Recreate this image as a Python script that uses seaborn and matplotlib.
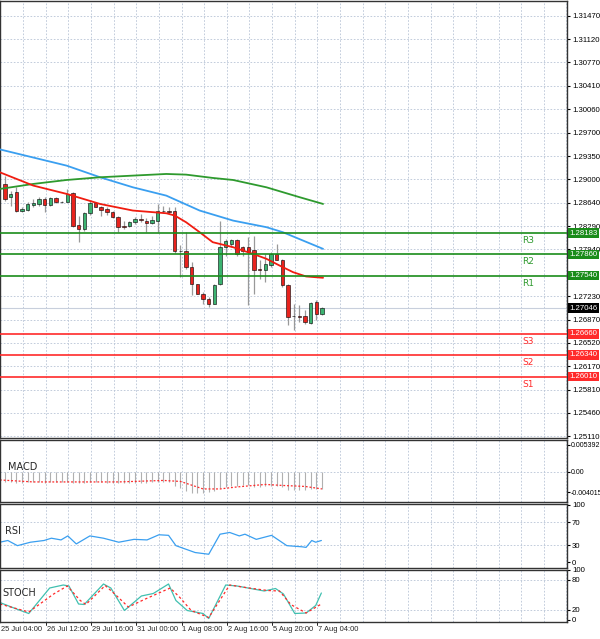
import numpy as np
import pandas as pd
import matplotlib
matplotlib.use("Agg")
import matplotlib.pyplot as plt
from matplotlib import font_manager
import seaborn as sns

sns.set_style("white")
_names = {f.name for f in font_manager.fontManager.ttflist}
NARROW = "Liberation Sans Narrow" if "Liberation Sans Narrow" in _names else "Liberation Sans"
plt.rcParams["font.family"] = "DejaVu Sans"

# ---------------- data ----------------
opens = [1.28927,1.28725,1.28801,1.28524,1.28534,1.28614,1.28624,1.28700,1.28614,1.28715,
         1.28650,1.28660,1.28786,1.28312,1.28246,1.28483,1.28634,1.28574,1.28549,1.28498,
         1.28433,1.28297,1.28297,1.28347,1.28398,1.28372,1.28342,1.28372,1.28524,1.28514,
         1.28514,1.27919,1.27919,1.27667,1.27405,1.27254,1.27188,1.27112,1.27405,1.27969,
         1.28020,1.28080,1.27979,1.27969,1.27929,1.27642,1.27626,1.27707,1.27868,1.27778,
         1.27390,1.26921,1.26921,1.26921,1.26820,1.27138,1.26961]
closes = [1.28700,1.28776,1.28524,1.28549,1.28624,1.28634,1.28700,1.28609,1.28715,1.28650,
          1.28660,1.28776,1.28297,1.28246,1.28483,1.28634,1.28584,1.28534,1.28498,1.28433,
          1.28272,1.28272,1.28357,1.28398,1.28382,1.28342,1.28382,1.28524,1.28514,1.28503,
          1.27909,1.27909,1.27667,1.27405,1.27264,1.27188,1.27112,1.27390,1.27969,1.28060,
          1.28080,1.27868,1.27919,1.27894,1.27626,1.27631,1.27717,1.27868,1.27778,1.27390,
          1.26911,1.26931,1.26911,1.26835,1.27122,1.26961,1.27046]
highs = [1.29053,1.28826,1.28876,1.28574,1.28650,1.28700,1.28725,1.28725,1.28725,1.28735,
         1.28675,1.28851,1.28801,1.28448,1.28498,1.28665,1.28660,1.28599,1.28574,1.28524,
         1.28448,1.28372,1.28372,1.28433,1.28473,1.28413,1.28448,1.28624,1.28599,1.28574,
         1.28574,1.28009,1.28196,1.27742,1.27415,1.27289,1.27213,1.27415,1.28372,1.28095,
         1.28095,1.28095,1.27994,1.28120,1.28146,1.27768,1.27868,1.27894,1.28020,1.27793,
         1.27415,1.27112,1.27087,1.27012,1.27138,1.27163,1.27062]
lows = [1.28675,1.28599,1.28498,1.28498,1.28524,1.28574,1.28599,1.28498,1.28599,1.28634,
        1.28634,1.28650,1.28272,1.28045,1.28221,1.28463,1.28574,1.28448,1.28463,1.28413,
        1.28196,1.28246,1.28272,1.28322,1.28347,1.28196,1.28322,1.28196,1.28483,1.28473,
        1.27878,1.27516,1.27642,1.27238,1.27254,1.27112,1.27062,1.27102,1.27390,1.27843,
        1.27969,1.27843,1.27843,1.27087,1.27254,1.27490,1.27440,1.27667,1.27768,1.27364,
        1.26785,1.26719,1.26835,1.26810,1.26810,1.26860,1.26936]

ma_red_x = [-0.9,5,10.9,16.8,22.6,28.5,30,32,34.4,36.7,40.3,43.8,46.2,48.5,50.9,53.2,56.2]
ma_red_y = [1.29103,1.28902,1.28776,1.28624,1.28524,1.28483,1.28448,1.28347,1.28196,1.28045,
            1.27969,1.27868,1.27793,1.27692,1.27591,1.27526,1.27506]
ma_blue_x = [-0.9,10.9,16.8,22.6,28.5,34.4,40.3,46.2,49.1,56.2]
ma_blue_y = [1.29450,1.29204,1.29028,1.28876,1.28750,1.28524,1.28372,1.28272,1.28196,1.27944]
ma_green_x = [-0.9,5,10.9,16.8,22.6,28.5,32,36.7,40.3,46.2,52.1,56.2]
ma_green_y = [1.28851,1.28927,1.28987,1.29028,1.29053,1.29078,1.29068,1.29018,1.28987,1.28876,
              1.28725,1.28624]

res_levels = [1.28183, 1.27860, 1.27540]
res_names = ["R3", "R2", "R1"]
sup_levels = [1.26660, 1.26340, 1.26010]
sup_names = ["S3", "S2", "S1"]
last_price = 1.27046

price_ticks = [1.31470,1.31120,1.30770,1.30410,1.30060,1.29700,1.29350,1.29000,1.28640,
               1.28290,1.27940,1.27230,1.26870,1.26520,1.26170,1.25810,1.25460,1.25110]

macd_hist = [-0.0021,-0.0021,-0.0022,-0.0022,-0.0021,-0.0021,-0.0021,-0.0022,-0.0021,-0.0021,
             -0.0021,-0.0020,-0.0022,-0.0023,-0.0022,-0.0021,-0.0021,-0.0021,-0.0022,-0.0022,
             -0.0022,-0.0023,-0.0022,-0.0022,-0.0022,-0.0022,-0.0021,-0.0020,-0.0020,-0.0020,
             -0.0028,-0.0033,-0.0038,-0.0042,-0.0043,-0.0042,-0.0041,-0.0039,-0.0033,-0.0030,
             -0.0028,-0.0028,-0.0027,-0.0027,-0.0030,-0.0030,-0.0029,-0.0028,-0.0028,-0.0031,
             -0.0036,-0.0037,-0.0037,-0.0037,-0.0035,-0.0035,-0.0034]
macd_sig_x = [-0.9,5,20,28,31,35,38,41,46,49,53,56]
macd_sig_y = [-0.0016,-0.0020,-0.0020,-0.0017,-0.0019,-0.0034,-0.0034,-0.0030,-0.0025,-0.0027,
              -0.0029,-0.0034]

rsi_x = [-0.9,0.5,2.2,4.5,6.9,8.2,9.9,11.1,12.6,15.0,17.4,20.1,22.8,25.1,27.2,28.9,30.2,33.6,
         36.0,38.0,39.7,41.4,42.4,44.4,47.1,49.8,52.5,53.2,54.2,54.9,55.9]
rsi_y = [35,38,29,35,38,42,39,46,32,46,42,35,40,39,48,47,29,17,14,49,52,46,49,40,47,29,27,26,
         38,35,38]

stoch_x = [-0.9,1.8,4.2,7.9,10.3,11.3,13.0,14.0,17.4,18.7,21.1,24.1,26.2,28.9,30.2,32.2,35.0,
           36.0,39.0,41.0,45.8,47.8,49.2,51.2,53.2,54.9,55.9]
stoch_k = [35,23,13,64,70,68,32,31,72,64,19,48,53,72,39,19,13,3,70,68,58,63,52,13,14,29,54]
stoch_sx = [-0.9,4.2,8.6,11.0,13.3,14.3,17.7,19.4,21.8,24.8,29.2,30.9,32.9,36.0,39.7,43.1,46.4,
            48.5,50.5,53.2,55.9]
stoch_d = [32,16,52,68,39,31,69,52,26,42,64,45,19,5,70,64,59,58,31,14,32]

time_labels = ["25 Jul 04:00","26 Jul 12:00","29 Jul 16:00","31 Jul 00:00",
               "1 Aug 08:00","2 Aug 16:00","5 Aug 20:00","7 Aug 04:00"]

# ---------------- layout ----------------
W, H = 600, 639
fig = plt.figure(figsize=(W/100, H/100), dpi=100)
fig.patch.set_facecolor("white")

def add(top, bottom):
    return fig.add_axes([0, 1 - bottom/H, 567/W, (bottom-top)/H])

ax = add(1, 438)
axm = add(440, 502)
axr = add(504, 568)
axs = add(570, 622)

XMIN, XMAX = -0.88, 99.3
grid_x = np.arange(3.2, XMAX, 4)
FS = 5.6
gridkw = dict(color="#b8c4d6", lw=0.6, ls=(0, (2, 2)))

for a in (ax, axm, axr, axs):
    a.set_xlim(XMIN, XMAX)
    for gx in grid_x:
        a.axvline(gx, zorder=0, **gridkw)
    a.set_xticks([])
    a.yaxis.tick_right()
    a.tick_params(axis="y", labelsize=FS, length=2, pad=1.5, colors="black")
    for s in a.spines.values():
        s.set_color("#333333"); s.set_linewidth(1.0)

def fix_font(a):
    for lbl in a.get_yticklabels():
        lbl.set_fontfamily(NARROW)

# ---- main price panel ----
ax.set_ylim(1.25080, 1.31697)
ax.set_yticks(price_ticks)
ax.set_yticklabels([f"{t:.5f}" for t in price_ticks])
for t in price_ticks:
    ax.axhline(t, zorder=0, **gridkw)

idx = np.arange(len(opens))
for i in idx:
    o, c, h, l = opens[i], closes[i], highs[i], lows[i]
    up = c >= o
    ax.vlines(i, l, h, color="#999999", lw=0.9, zorder=2)
    col = "#3cb371" if up else "#e8231e"
    lo, hi = min(o, c), max(o, c)
    if hi - lo < 0.00004:
        hi = lo + 0.00004
    ax.bar(i, hi - lo, bottom=lo, width=0.6, color=col, edgecolor="black", lw=0.4, zorder=3)

sns.lineplot(x=ma_blue_x, y=ma_blue_y, ax=ax, color="#3a9ff0", lw=1.3, zorder=4)
sns.lineplot(x=ma_green_x, y=ma_green_y, ax=ax, color="#2e9a2e", lw=1.3, zorder=4)
sns.lineplot(x=ma_red_x, y=ma_red_y, ax=ax, color="#f01c10", lw=1.3, zorder=4)

def box(lv, fc):
    ax.text(1.004, lv, f"{lv:.5f}", transform=ax.get_yaxis_transform(), fontsize=FS,
            fontfamily=NARROW, color="white", va="center", ha="left",
            bbox=dict(boxstyle="square,pad=0.18", fc=fc, ec="none"), zorder=10)

ax.axhline(last_price, color="#c8cfdc", lw=0.8, zorder=1)
lab_x = 92.4
for lv, nm in zip(res_levels, res_names):
    ax.axhline(lv, color="#1a8c1a", lw=1.2, zorder=5)
    ax.text(lab_x, lv - 0.00115, nm, color="#2e9a2e", fontsize=6.5, ha="center", va="center")
    box(lv, "#1a8c1a")
for lv, nm in zip(sup_levels, sup_names):
    ax.axhline(lv, color="#ff2a2a", lw=1.2, zorder=5)
    ax.text(lab_x, lv - 0.00115, nm, color="#ff2a2a", fontsize=6.5, ha="center", va="center")
    box(lv, "#ff2a2a")
box(last_price, "black")
ax.set_ylabel("")
fix_font(ax)

# ---- MACD ----
axm.set_ylim(-0.006015, 0.006392)
axm.set_yticks([0.005392, 0.0, -0.004015])
axm.set_yticklabels(["0.005392", "0.00", "-0.004015"])
axm.tick_params(axis="y", labelsize=5.0, pad=1)
axm.axhline(0, zorder=0, **gridkw)
axm.vlines(idx, 0, macd_hist, color="#b0b0b0", lw=0.8)
sns.lineplot(x=macd_sig_x, y=macd_sig_y, ax=axm, color="#ff2a2a", lw=0.9, linestyle=(0, (1.5, 1.5)))
axm.text(0.5, 0.0010, "MACD", fontsize=7, va="center")
fix_font(axm)

# ---- RSI ----
axr.set_ylim(-10, 101.7)
axr.set_yticks([100, 70, 30, 0])
for t in (70, 30):
    axr.axhline(t, zorder=0, **gridkw)
sns.lineplot(x=rsi_x, y=rsi_y, ax=axr, color="#3a9ff0", lw=0.9)
axr.text(0.0, 55, "RSI", fontsize=7, va="center")
fix_font(axr)

# ---- STOCH ----
axs.set_ylim(-4, 98)
axs.set_yticks([100, 80, 20, 0])
for t in (80, 20):
    axs.axhline(t, zorder=0, **gridkw)
sns.lineplot(x=stoch_x, y=stoch_k, ax=axs, color="#40c0b0", lw=0.9)
sns.lineplot(x=stoch_sx, y=stoch_d, ax=axs, color="#ff2a2a", lw=0.9, linestyle=(0, (2, 2)))
axs.text(-0.5, 55, "STOCH", fontsize=7, va="center")
fix_font(axs)

# time labels
tick_idx = [-0.88] + [7.2 + 8 * k for k in range(7)]
for ti, tl in zip(tick_idx, time_labels):
    axs.text(ti + 0.15, -0.07, tl, transform=axs.get_xaxis_transform(), fontsize=5.4,
             fontfamily=NARROW, ha="left", va="top")
    if ti > 0:
        axs.plot([ti, ti], [0, -0.05], transform=axs.get_xaxis_transform(),
                 color="black", lw=0.6, clip_on=False)

fig.savefig("out.png", dpi=100)
